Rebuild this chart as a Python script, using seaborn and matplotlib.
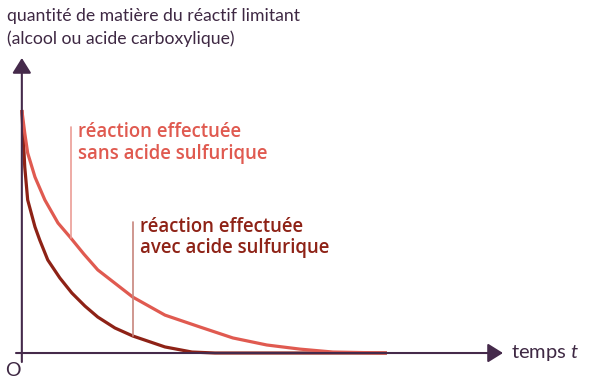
import seaborn as sns
import matplotlib.pyplot as plt
import pandas as pd

# Read-off points (time in arbitrary units, quantity in % of initial amount)
t_sans = [0, 0.8, 1.6, 3.6, 6.3, 9.9, 13.2, 17.0, 20.8, 30.4, 39.2, 48.8, 57.8, 67.1, 76.2, 85.2, 100]
n_sans = [100, 90.5, 82.3, 72.4, 63.0, 53.5, 47.7, 40.7, 34.2, 23.0, 15.6, 10.7, 6.2, 3.3, 1.6, 0.4, 0]

t_avec = [0, 0.8, 1.6, 3.6, 4.9, 7.1, 10.4, 13.7, 17.3, 20.8, 25.5, 30.4, 39.2, 46.6, 52.9, 100]
n_avec = [100, 76.5, 63.0, 51.9, 46.5, 38.3, 30.9, 24.7, 19.3, 14.8, 10.3, 7.0, 2.5, 0.4, 0, 0]

label_sans = "réaction effectuée\nsans acide sulfurique"
label_avec = "réaction effectuée\navec acide sulfurique"
y_title = "quantité de matière du réactif limitant\n(alcool ou acide carboxylique)"
x_title = "temps $t$"

sans_df = pd.DataFrame({"t": t_sans, "n": n_sans})
avec_df = pd.DataFrame({"t": t_avec, "n": n_avec})

sns.set_theme(style="white")
plt.rcParams["font.family"] = ["Lato", "DejaVu Sans"]
plt.rcParams["mathtext.fontset"] = "custom"
plt.rcParams["mathtext.it"] = "Lato:italic"

axis_col = "#452a4b"
text_col = "#3e2843"
light_red = "#e05a50"
dark_red = "#8e2216"

W, H = 593, 388
fig = plt.figure(figsize=(W / 100, H / 100), dpi=100)
ax = fig.add_axes([16 / W, (H - 362) / H, (503 - 16) / W, (362 - 58) / H])
x_min, x_max = -1.6, 131.8
y_min, y_max = -3.7, 121.4
ax.set_xlim(x_min, x_max)
ax.set_ylim(y_min, y_max)
ax.axis("off")

# axes with arrows
arrow = dict(arrowstyle="-|>,head_length=0.4,head_width=0.25", color=axis_col,
             lw=1.5, mutation_scale=23, shrinkA=0, shrinkB=0)
ax.annotate("", xy=(x_max, 0), xytext=(x_min, 0), arrowprops=arrow)
ax.annotate("", xy=(0, y_max), xytext=(0, y_min), arrowprops=arrow)

# curves
sns.lineplot(data=avec_df, x="t", y="n", color=dark_red, lw=2.3, ax=ax, sort=False,
             solid_capstyle="butt", solid_joinstyle="round")
sns.lineplot(data=sans_df, x="t", y="n", color=light_red, lw=2.3, ax=ax, sort=False,
             solid_capstyle="butt", solid_joinstyle="round")

# leader lines and labels
label_font = ["Open Sans", "DejaVu Sans"]
ax.plot([13.4, 13.4], [47.3, 93], color="#eb9d96", lw=1.2)
ax.text(15.3, 95, label_sans, color=light_red, fontsize=13.4, fontweight="semibold",
        family=label_font, va="top", ha="left", linespacing=1.1)
ax.plot([30.4, 30.4], [7.0, 53.9], color="#c7857d", lw=1.2)
ax.text(32.3, 56, label_avec, color=dark_red, fontsize=13.4, fontweight="semibold",
        family=label_font, va="top", ha="left", linespacing=1.1)

# axis titles
fig.text(7 / W, 1 - 8 / H, y_title, color=text_col, fontsize=12.7, va="top", ha="left",
         linespacing=1.45)
fig.text(511 / W, 1 - 353 / H, x_title, color=text_col, fontsize=14.5, va="center", ha="left")
fig.text(13 / W, 1 - 370 / H, "O", color=text_col, fontsize=14, va="center", ha="center")

plt.savefig("out.png", dpi=100)
